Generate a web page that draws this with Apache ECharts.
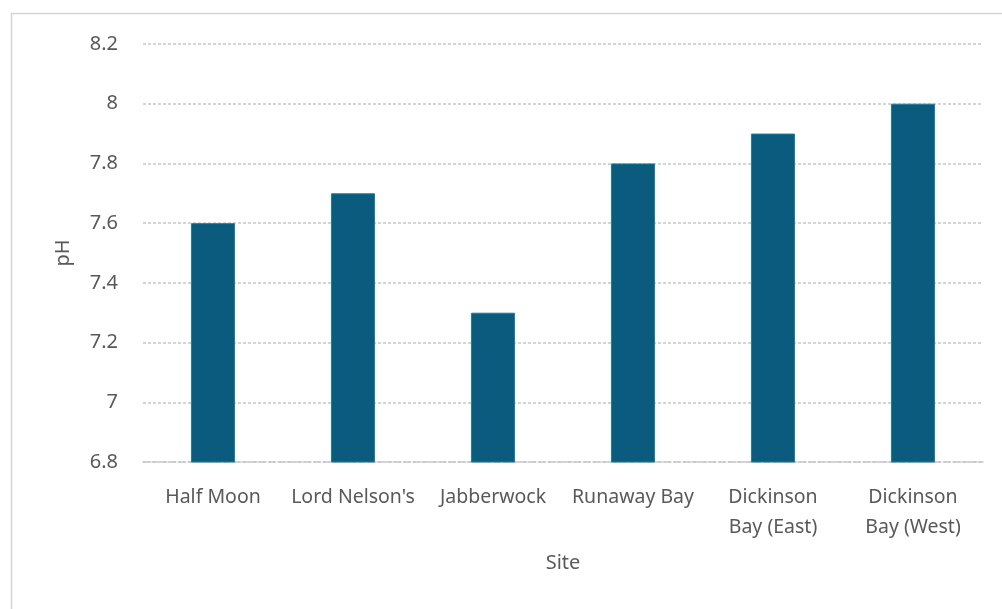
<!DOCTYPE html>
<html><head><meta charset="utf-8">
<script src="https://cdn.jsdelivr.net/npm/echarts@6/dist/echarts.min.js"></script>
<style>html,body{margin:0;padding:0;background:#fff}#c{width:1002px;height:609px}</style>
</head><body><div id="c"></div>
<script>
const categories = ["Half Moon", "Lord Nelson's", "Jabberwock", "Runaway Bay", "Dickinson\nBay (East)", "Dickinson\nBay (West)"];
const phValues = [7.6, 7.7, 7.3, 7.8, 7.9, 8.0];
const yTicks = {min: 6.8, max: 8.2, interval: 0.2};

const chart = echarts.init(document.getElementById('c'));
const font = '"Noto Sans", "Open Sans", sans-serif';
chart.setOption({
  animation: false,
  graphic: [{type: 'rect', shape: {x: 11.5, y: 13.5, width: 1010, height: 620}, style: {fill: 'none', stroke: '#d4d4d4', lineWidth: 1.5}}],
  grid: {left: 143, right: 19, top: 44, bottom: 147},
  xAxis: {
    type: 'category', data: categories,
    name: 'Site', nameLocation: 'middle', nameGap: 91,
    nameTextStyle: {fontFamily: font, fontSize: 20, color: '#595959'},
    axisLine: {show: true, lineStyle: {color: '#c8c8c8', type: 'dashed', width: 1.5}},
    axisTick: {show: false},
    axisLabel: {fontFamily: font, fontSize: 19.5, color: '#595959', margin: 20, lineHeight: 30, interval: 0}
  },
  yAxis: {
    type: 'value', min: yTicks.min, max: yTicks.max, interval: yTicks.interval,
    name: 'pH', nameLocation: 'middle', nameGap: 70,
    nameTextStyle: {fontFamily: font, fontSize: 20, color: '#595959'},
    axisLine: {show: false}, axisTick: {show: false},
    axisLabel: {fontFamily: font, fontSize: 20, color: '#595959', margin: 25,
      formatter: v => String(Math.round(v * 10) / 10)},
    splitLine: {lineStyle: {color: '#c8c8c8', type: [3, 2], width: 1.5}}
  },
  series: [{
    type: 'bar', data: phValues, barWidth: '31.5%',
    itemStyle: {color: '#0a5b7d', borderColor: '#1b7f9c', borderWidth: 1}
  }]
});
</script></body></html>
